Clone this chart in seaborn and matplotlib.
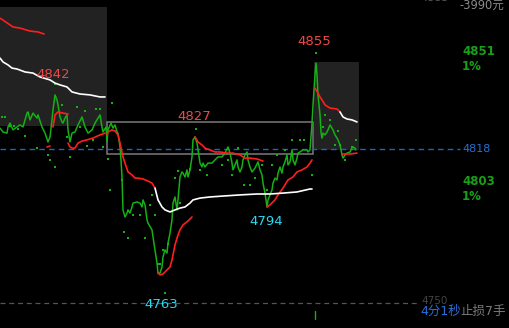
import matplotlib
matplotlib.use("Agg")
import matplotlib.pyplot as plt
import seaborn as sns
import pandas as pd
from matplotlib.patches import Rectangle

# ---------------- data ----------------
# main price line (time index, price)
price_x = [0, 3, 7, 8, 10, 13, 17, 20, 23, 27, 28, 30, 33, 37, 38, 42, 45, 48, 50, 52, 53, 55, 57, 58, 60,
           62, 63, 65, 67, 68, 70, 72, 75, 78, 82, 85, 88, 92, 95, 100, 102, 103, 106,
           107, 108, 111, 113, 115, 117, 118, 120, 121, 122, 123, 125, 127, 128, 130, 132, 133, 137, 140,
           142, 143, 145, 147, 148, 152, 153, 155, 157, 158, 160, 162, 163, 165, 167, 168, 170, 172, 173,
           175, 177, 178, 180, 182, 183, 185, 187, 188, 190, 192, 193, 195, 197, 198, 200, 202, 203, 205,
           208, 212, 215, 218, 222, 225, 228, 230, 232, 233, 235, 237, 238, 240, 242, 243, 245, 247, 248,
           250, 252, 255, 258, 260, 262, 263, 265, 267, 268, 270, 272, 273, 275, 277, 278, 280, 282, 283,
           285, 287, 288, 290, 292, 293, 295, 297, 298, 300, 303, 307, 308, 310, 311, 312, 313, 315, 316,
           317, 318, 320, 321, 322, 323, 325, 327, 328, 330, 332, 333, 335, 337, 338, 340, 342, 343, 345,
           347, 350, 352, 353, 355, 356]
price_y = [4827.2, 4825.5, 4825.0, 4827.7, 4829.4, 4826.4, 4827.7, 4828.6, 4827.7, 4833.8, 4834.3, 4830.8,
           4833.8, 4831.6, 4833.0, 4827.7, 4825.0, 4821.1, 4823.3, 4830.8, 4835.2, 4841.8, 4839.6, 4837.4,
           4832.1, 4829.9, 4829.4, 4831.6, 4833.0, 4826.4, 4821.1, 4825.0, 4825.5, 4828.6, 4832.1, 4827.7,
           4825.0, 4826.4, 4829.4, 4833.0, 4827.7, 4825.5, 4827.7,
           4821.1, 4826.4, 4829.4, 4827.2, 4828.6, 4825.5, 4825.0, 4818.9, 4813.2, 4805.7, 4791.2, 4788.1,
           4789.8, 4791.2, 4789.8, 4792.5, 4794.2, 4794.7, 4794.2, 4792.5, 4795.6, 4793.4, 4786.8, 4785.4,
           4782.4, 4779.3, 4773.6, 4767.8, 4763.4, 4763.4, 4766.1, 4770.5, 4773.6, 4772.2, 4776.6, 4781.0,
           4786.8, 4794.2, 4796.9, 4791.2, 4795.6, 4805.7, 4807.9, 4807.4, 4805.7, 4808.8, 4805.7, 4808.8,
           4814.5, 4822.0, 4823.3, 4820.6, 4817.6, 4811.8, 4810.1, 4811.8, 4810.1, 4811.8, 4811.8, 4813.2,
           4814.5, 4814.5, 4816.2, 4818.9, 4816.2, 4811.8, 4808.8, 4811.0, 4813.2, 4810.1, 4807.9, 4810.1,
           4813.2, 4815.4, 4816.7, 4813.2, 4810.1, 4807.9, 4809.6, 4812.3, 4808.8, 4806.6, 4803.0, 4798.6,
           4792.5, 4795.6, 4797.8, 4800.0, 4803.0, 4805.2, 4804.4, 4807.4, 4810.1, 4807.4, 4810.1, 4812.3,
           4815.4, 4811.0, 4812.3, 4817.6, 4813.2, 4811.0, 4814.0, 4816.2, 4816.7, 4817.6, 4817.6, 4816.7,
           4817.6, 4823.3, 4829.4, 4837.4, 4850.6, 4855.8, 4850.6, 4841.8, 4833.0, 4825.5, 4822.8, 4825.0,
           4824.2, 4825.5, 4826.4, 4828.6, 4827.2, 4826.4, 4824.2, 4822.8, 4822.0, 4819.8, 4815.4, 4814.0,
           4815.4, 4816.2, 4816.7, 4818.4, 4818.9, 4818.4, 4817.6]

# average lines, red pieces
red_a_x = [0, 10, 13, 20, 30, 38, 44]
red_a_y = [4875.6, 4872.6, 4871.7, 4871.2, 4869.9, 4869.5, 4868.6]
red_b_x = [53, 55, 58, 63, 68]
red_b_y = [4827.7, 4833.0, 4834.3, 4833.8, 4833.4]
red_c_x = [68, 70, 72, 75, 78, 82, 87, 93, 100, 105]
red_c_y = [4820.6, 4818.9, 4818.4, 4818.4, 4820.6, 4821.5, 4822.0, 4822.8, 4824.2, 4825.0]
red_t_x = [47, 50]
red_t_y = [4818.9, 4819.3]
red_d_x = [107, 108, 112, 115, 118, 120, 123, 125, 128, 132, 135, 138, 143, 148, 152, 155]
red_d_y = [4824.2, 4825.5, 4826.4, 4825.9, 4824.2, 4820.6, 4814.5, 4811.8, 4807.9, 4806.6, 4805.2,
           4805.2, 4804.8, 4803.9, 4803.0, 4800.8]
red_e_x = [158, 160, 163, 167, 170, 172, 175, 178, 180, 183, 188, 192]
red_e_y = [4763.4, 4762.6, 4763.0, 4764.8, 4766.1, 4769.2, 4775.8, 4780.2, 4782.4, 4784.6, 4786.3, 4788.1]
red_f_x = [195, 198, 202, 205, 210, 215, 220, 227, 233, 240, 245, 250, 257, 263]
red_f_y = [4823.3, 4821.1, 4819.8, 4818.4, 4817.6, 4816.7, 4816.7, 4816.2, 4816.2, 4815.4, 4814.0,
           4814.0, 4813.6, 4812.7]
red_g_x = [267, 270, 275, 278, 283, 288, 293, 297, 302, 307, 310, 312]
red_g_y = [4792.5, 4793.4, 4795.6, 4797.8, 4800.8, 4804.4, 4805.7, 4807.9, 4808.8, 4810.1, 4811.8, 4813.2]
red_h_x = [315, 318, 320, 322, 325, 330, 337, 340]
red_h_y = [4844.8, 4842.6, 4840.9, 4839.6, 4837.4, 4836.0, 4835.6, 4834.3]
red_i_x = [342, 345, 350, 357]
red_i_y = [4815.8, 4815.8, 4815.8, 4816.2]

# average lines, white pieces
white_a_x = [0, 3, 8, 12, 17, 25, 33, 40, 50, 55, 60, 67, 72, 80, 90, 100, 105]
white_a_y = [4858.0, 4856.3, 4855.0, 4853.6, 4853.2, 4851.9, 4851.4, 4849.7, 4848.4, 4847.0, 4846.2,
             4845.3, 4843.1, 4842.2, 4841.8, 4840.9, 4840.9]
white_b_x = [155, 158, 162, 165, 170, 175, 180, 185, 190, 193, 200, 210, 223, 240, 257, 270, 283, 297, 310, 312]
white_b_y = [4800.8, 4795.6, 4792.5, 4791.2, 4790.3, 4791.2, 4792.0, 4792.5, 4794.2, 4795.6, 4796.4,
             4796.9, 4797.3, 4797.8, 4798.2, 4798.2, 4798.6, 4799.1, 4800.4, 4800.4]
white_c_x = [340, 343, 347, 352, 357]
white_c_y = [4834.3, 4832.1, 4831.2, 4830.8, 4829.9]

# scattered trade dots
dot_x = [2, 5, 10, 14, 18, 25, 37, 48, 50, 55, 55, 62, 67, 70, 77, 80, 85, 87, 93, 96, 100, 103, 108,
         112, 110, 122, 124, 128, 133, 140, 145, 150, 152, 155, 158, 160, 163, 165, 168, 175, 178, 180,
         190, 196, 200, 207, 222, 228, 232, 238, 244, 250, 255, 262, 267, 272, 277, 285, 292, 300, 304,
         316, 312, 325, 330, 335, 340, 345, 352, 356, 323, 338]
dot_y = [4832.1, 4832.1, 4828.1, 4828.1, 4826.8, 4823.7, 4818.4, 4815.4, 4813.2, 4810.1, 4846.6,
         4837.4, 4823.3, 4814.5, 4836.5, 4827.7, 4834.7, 4819.3, 4822.0, 4835.6, 4835.6, 4818.9, 4813.6,
         4838.2, 4800.0, 4804.4, 4781.5, 4778.8, 4788.9, 4788.9, 4778.8, 4793.4, 4797.8, 4788.9, 4767.4,
         4767.4, 4773.6, 4754.6, 4776.2, 4805.2, 4808.4, 4794.2, 4809.2, 4826.8, 4808.8, 4806.6, 4811.0,
         4813.2, 4806.6, 4818.4, 4802.2, 4802.2, 4805.2, 4811.0, 4800.0, 4811.0, 4815.4, 4817.6, 4822.0,
         4822.0, 4822.0, 4860.2, 4806.6, 4833.0, 4830.8, 4819.8, 4819.8, 4813.2, 4818.9, 4822.0, 4827.7,
         4825.9]

# price levels and labels
mid_level = 4818
low_level = 4750.2
labels_red = [("4842", 53, 4850.6), ("4827", 194, 4832.1), ("4855", 314, 4865.5)]
labels_cyan = [("4794", 266, 4786.3), ("4763", 161, 4749.8)]

# ---------------- style ----------------
sns.set_theme(style="dark", rc={"axes.facecolor": "#000000", "figure.facecolor": "#000000"})
plt.rcParams["font.family"] = ["DejaVu Sans", "Noto Sans CJK SC"]

fig = plt.figure(figsize=(5.09, 3.28), dpi=100)
ax = fig.add_axes([0, 0, 1, 1])
ax.set_xlim(0, 509)
ax.set_ylim(4739.24, 4883.56)
ax.set_axis_off()

GREEN = "#14b014"
RED = "#ff1e1e"
WHITE = "#ffffff"

# shaded panels
ax.add_patch(Rectangle((0, 4828.1), 107, 4880.5 - 4828.1, facecolor="#222222", edgecolor="none", zorder=0))
ax.add_patch(Rectangle((314, 4817.6), 45, 4856.3 - 4817.6, facecolor="#222222", edgecolor="none", zorder=0))
# box
ax.add_patch(Rectangle((107, 4815.8), 206, 4829.9 - 4815.8, facecolor="none", edgecolor="#7a7a7a",
                       linewidth=1.1, zorder=1))

# reference levels
ax.plot([0, 460], [mid_level, mid_level], color="#1f63c8", lw=1.0, ls=(0, (4, 3)), zorder=1)
ax.plot([0, 420], [low_level, low_level], color="#555555", lw=0.9, ls=(0, (4, 3)), zorder=1)

# dots
sns.scatterplot(x=dot_x, y=dot_y, ax=ax, color=GREEN, marker="s", s=3, linewidth=0, zorder=2)

# main line
df = pd.DataFrame({"x": price_x, "y": price_y})
sns.lineplot(data=df, x="x", y="y", ax=ax, color=GREEN, lw=1.1, estimator=None, sort=False, zorder=3)

for xs, ys in [(red_a_x, red_a_y), (red_b_x, red_b_y), (red_c_x, red_c_y), (red_t_x, red_t_y),
               (red_d_x, red_d_y), (red_e_x, red_e_y), (red_f_x, red_f_y), (red_g_x, red_g_y),
               (red_h_x, red_h_y), (red_i_x, red_i_y)]:
    sns.lineplot(x=xs, y=ys, ax=ax, color=RED, lw=1.2, estimator=None, sort=False, zorder=4)
for xs, ys in [(white_a_x, white_a_y), (white_b_x, white_b_y), (white_c_x, white_c_y)]:
    sns.lineplot(x=xs, y=ys, ax=ax, color=WHITE, lw=1.2, estimator=None, sort=False, zorder=4)

# small tick at the bottom
ax.plot([315, 315], [4743.1, 4746.7], color=GREEN, lw=1.0)

# labels on chart
for t, x, y in labels_red:
    ax.text(x, y, t, color="#f04848", fontsize=9.5, ha="center", va="center", zorder=5)
for t, x, y in labels_cyan:
    ax.text(x, y, t, color="#2ad8f0", fontsize=9.5, ha="center", va="center", zorder=5)

# right-hand labels
ax.text(460, 4881.0, "-3990元", color="#8a8a8a", fontsize=8.3, ha="left", va="center")
ax.text(420, 4884.5, "4883", color="#5a5a5a", fontsize=8, ha="left", va="center")
ax.text(462, 4861.1, "4851", color="#17a017", fontsize=8.5, fontweight="bold", ha="left", va="center")
ax.text(462, 4854.1, "1%", color="#17a017", fontsize=8.5, fontweight="bold", ha="left", va="center")
ax.text(462, mid_level, "4818", color="#2a6fd6", fontsize=8, ha="left", va="center")
ax.text(462, 4803.9, "4803", color="#17a017", fontsize=8.5, fontweight="bold", ha="left", va="center")
ax.text(462, 4797.3, "1%", color="#17a017", fontsize=8.5, fontweight="bold", ha="left", va="center")
ax.text(421, 4751.0, "4750", color="#444444", fontsize=7.5, ha="left", va="center")
ax.text(420, 4746.7, "4分1秒", color="#2a6fd6", fontsize=9, ha="left", va="center")
ax.text(460, 4746.7, "止损7手", color="#7a7a7a", fontsize=9, ha="left", va="center")

fig.savefig("out.png", dpi=100, facecolor="#000000")
